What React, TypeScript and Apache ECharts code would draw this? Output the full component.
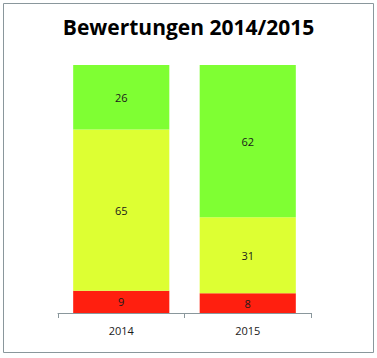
import React, { useEffect, useRef } from "react";
import * as echarts from "echarts";

const categories = ["2014", "2015"];
const redValues = [9, 8];
const yellowValues = [65, 31];
const greenValues = [26, 62];
const titleText = "Bewertungen 2014/2015";

export default function App() {
  const ref = useRef<HTMLDivElement>(null);
  useEffect(() => {
    if (!ref.current) return;
    const chart = echarts.init(ref.current, null, { renderer: "svg" });
    const totals = categories.map((_, i) => redValues[i] + yellowValues[i] + greenValues[i]);
    const pct = (arr: number[]) => arr.map((v, i) => ({ value: (v / totals[i]) * 100, raw: v }));
    const label = {
      show: true,
      position: "inside",
      color: "#1a1a1a",
      fontSize: 11,
      fontFamily: "Open Sans",
      formatter: (p: any) => String(p.data.raw),
    };
    chart.setOption({
      animation: false,
      backgroundColor: "#ffffff",
      title: {
        text: titleText,
        left: "center",
        top: 11,
        textStyle: { fontSize: 21, fontWeight: "bold", fontFamily: "Open Sans", color: "#000" },
      },
      graphic: [
        {
          type: "rect",
          shape: { x: 3.5, y: 3.5, width: 370, height: 349 },
          style: { fill: "none", stroke: "#8a979c", lineWidth: 1 },
          silent: true,
        },
      ],
      grid: { left: 58, right: 66, top: 65, bottom: 45 },
      xAxis: {
        type: "category",
        data: categories,
        axisLine: { lineStyle: { color: "#8a979c" } },
        axisTick: { show: true, length: 5, lineStyle: { color: "#8a979c" } },
        axisLabel: { color: "#1a1a1a", fontSize: 11, fontFamily: "Open Sans", margin: 12 },
      },
      yAxis: {
        type: "value",
        min: 0,
        max: 100,
        show: false,
        splitLine: { show: false },
      },
      series: [
        { name: "rot", type: "bar", stack: "s", barCategoryGap: "24%", data: pct(redValues), itemStyle: { color: "#ff1f0f" }, label },
        { name: "gelb", type: "bar", stack: "s", data: pct(yellowValues), itemStyle: { color: "#ddff33" }, label },
        { name: "grün", type: "bar", stack: "s", data: pct(greenValues), itemStyle: { color: "#7fff33" }, label },
      ],
    });
    return () => chart.dispose();
  }, []);
  return <div ref={ref} style={{ position: "fixed", left: 0, top: 0, width: 377, height: 358 }} />;
}
